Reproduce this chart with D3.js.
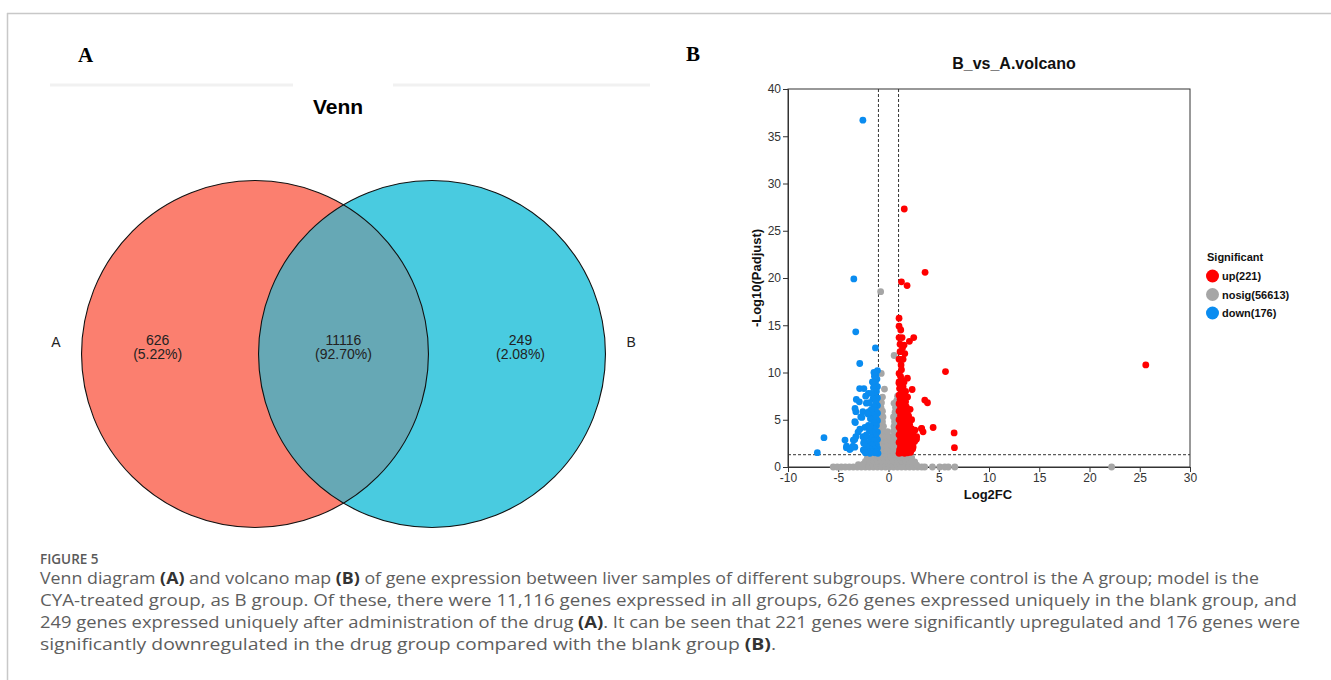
<!DOCTYPE html>
<html>
<head>
<meta charset="utf-8">
<script src="https://cdn.jsdelivr.net/npm/d3@7"></script>
<style>
  body { margin: 0; background: #fff; }
  svg { display: block; }
</style>
</head>
<body>
<script>
// ---------- data ----------
var vennSets = ["A", "B"];
var vennCounts = [626, 11116, 249];
var vennPercents = ["5.22%", "92.70%", "2.08%"];

var xTicks = [-10, -5, 0, 5, 10, 15, 20, 25, 30];
var yTicks = [0, 5, 10, 15, 20, 25, 30, 35, 40];
var sigLabels = ["up(221)", "nosig(56613)", "down(176)"];
var fcCut = 1, padjCut = 1.3;

// [log2FC, -log10(padjust)]
var upPoints = [
  [1.57,27.3],[3.64,20.6],[1.29,19.6],[1.85,19.2],[1.05,15.75],[1.05,14.9],[1.22,14.5],
  [1.05,13.7],[1.35,13.7],[2.51,13.7],[2.08,13.3],[1.15,13.0],[1.39,12.6],[1.62,12.0],
  [1.05,11.4],[1.45,11.4],[1.29,10.3],[1.05,9.9],[5.67,10.1],[25.6,10.8],[1.88,9.4],
  [1.05,8.85],[2.35,8.2],[1.35,7.96],[3.61,7.08],[3.88,6.8],[1.78,6.37],[3.28,4.07],
  [3.44,3.72],[4.44,4.18],[6.53,3.61],[6.56,2.05],[2.45,3.36],[2.28,4.07],[2.78,2.94],
  [2.12,2.48],[2.45,2.12],[1.78,1.6],[3.3,4.09],[2.63,3.9],[2.8,3.2],[2.3,3.0],
  [1.05,1.45],[1.3,1.5],[1.6,1.45],[1.9,1.5],[2.2,1.55],[1.1,1.8],[1.45,1.85],[1.75,1.9],
  [2.05,1.85],[2.4,1.9],[1.2,2.2],[1.55,2.25],[1.9,2.2],[2.25,2.3],[1.05,2.6],[1.35,2.6],
  [1.7,2.55],[2.0,2.65],[2.6,2.7],[1.2,3.0],[1.55,3.0],[1.85,3.05],[2.2,3.0],[1.05,3.4],
  [1.4,3.4],[1.75,3.45],[2.05,3.5],[1.2,3.8],[1.6,3.85],[1.95,3.8],[1.05,4.2],[1.4,4.2],
  [1.8,4.25],[2.1,4.5],[1.2,4.6],[1.55,4.65],[1.05,5.0],[1.35,5.1],[1.75,5.0],[1.2,5.45],
  [1.55,5.5],[1.05,5.9],[1.4,5.9],[1.85,5.8],[1.2,6.3],[1.6,6.25],[1.05,6.7],[1.35,6.75],
  [1.7,6.9],[1.15,7.15],[1.5,7.3],[1.05,7.6],[1.3,7.9],[1.6,7.7],[1.1,8.3],[1.45,8.5],
  [1.05,9.0],[1.3,9.2],[1.2,9.6],[1.55,9.0],[1.7,8.0],[1.9,7.4],[2.0,5.4],[2.3,5.0],
  [2.15,6.1],[1.9,4.0],[2.35,2.5],[2.55,3.1],[1.25,10.8],[1.15,12.2],[1.55,12.9]
];

var nosigPoints = [
  [-5.5,0],[-5.1,0],[-4.7,0],[-4.3,0],[-3.9,0],[-3.5,0],[-3.1,0],[-2.7,0],[-2.3,0],[-1.9,0],
  [-1.5,0],[-1.1,0],[-0.7,0],[-0.3,0],[0.1,0],[0.5,0],[0.9,0],[1.3,0],[1.7,0],[2.1,0],
  [2.5,0],[2.9,0],[3.3,0],[3.6,0],[4.37,0],[5.1,0],[5.6,0],[5.95,0],[6.6,0],[22.2,0],
  [-3.0,0.25],[-2.5,0.3],[-2.0,0.25],[-1.6,0.3],[-1.2,0.25],[-0.8,0.3],[-0.4,0.25],[0,0.3],
  [0.4,0.25],[0.8,0.3],[1.2,0.25],[1.6,0.3],[2.0,0.25],[2.4,0.3],[2.8,0.2],
  [-2.3,0.6],[-1.9,0.65],[-1.5,0.6],[-1.1,0.65],[-0.7,0.6],[-0.3,0.65],[0.1,0.6],[0.5,0.65],
  [0.9,0.6],[1.3,0.65],[1.7,0.6],[2.1,0.65],[2.61,0.53],
  [-2.1,1.0],[-1.7,1.05],[-1.3,1.0],[-0.9,1.05],[-0.5,1.0],[-0.1,1.05],[0.3,1.0],[0.7,1.05],
  [1.1,1.0],[1.5,1.05],[1.9,1.0],[2.3,1.0],
  [-1.9,1.3],[-1.4,1.35],[-0.8,1.3],[-0.3,1.35],[0.2,1.3],[0.7,1.35],[1.2,1.3],[1.7,1.35],[2.1,1.3],
  [-0.9,1.7],[-0.55,1.8],[-0.2,1.7],[0.15,1.8],[0.5,1.7],[0.85,1.8],
  [-0.85,2.2],[-0.5,2.3],[-0.15,2.2],[0.2,2.3],[0.55,2.2],[0.9,2.3],
  [-0.9,2.7],[-0.55,2.8],[-0.2,2.75],[0.15,2.8],[0.5,2.7],[0.85,2.8],
  [-0.85,3.2],[-0.5,3.3],[0.05,3.25],[0.55,3.3],[0.9,3.2],
  [-0.9,3.7],[-0.55,3.8],[-0.1,3.75],[0.5,3.8],[0.85,3.7],
  [-0.85,4.2],[-0.5,4.3],[0.55,4.3],[0.9,4.2],
  [-0.9,4.7],[-0.6,4.8],[0.6,4.8],[0.85,4.7],
  [-0.85,5.2],[-0.55,5.3],[0.5,5.3],[0.9,5.2],
  [-0.8,5.7],[-0.6,5.9],[0.65,5.8],[0.85,5.6],
  [-0.75,6.3],[0.7,6.3],[-0.7,6.8],[0.55,6.74],[0.8,7.0],
  [-0.78,18.55],[0.56,11.8],[-0.72,9.9],[-0.4,8.25],[-0.6,7.4],[0.9,7.5]
];

var downPoints = [
  [-2.55,36.7],[-3.45,19.9],[-3.26,14.3],[-1.3,12.6],[-2.86,10.95],[-2.87,8.3],[-2.45,8.3],
  [-2.0,7.8],[-2.9,6.9],[-2.2,6.75],[-3.25,5.85],[-2.55,5.85],[-1.95,5.85],[-3.35,4.8],
  [-2.65,5.25],[-2.85,4.0],[-2.35,4.2],[-3.25,3.2],[-2.55,3.2],[-6.42,3.1],[-4.33,2.85],
  [-3.5,2.85],[-4.17,2.2],[-3.77,1.95],[-3.35,2.1],[-2.5,1.8],[-2.2,2.15],[-7.08,1.52],
  [-2.27,7.5],[-3.2,7.15],[-3.33,6.2],[-2.76,5.3],[-3.3,4.7],[-3.03,3.7],[-3.36,2.9],
  [-4.19,2.05],[-3.86,1.85],[-3.53,2.2],[-2.46,2.6],[-2.27,3.2],[-2.46,1.77],[-2.03,1.95],
  [-1.1,10.2],[-1.25,9.8],[-1.15,9.3],[-1.4,9.6],[-1.3,8.9],[-1.1,8.5],[-1.5,8.4],[-1.2,8.0],
  [-1.35,7.6],[-1.1,7.3],[-1.55,7.2],[-1.25,6.9],[-1.1,6.5],[-1.45,6.4],[-1.3,6.0],[-1.7,6.1],
  [-1.1,5.7],[-1.5,5.5],[-1.25,5.2],[-1.8,5.1],[-1.1,4.9],[-1.45,4.7],[-1.65,4.4],[-1.2,4.4],
  [-1.35,4.0],[-1.1,3.7],[-1.55,3.6],[-1.9,3.8],[-1.25,3.3],[-1.75,3.1],[-1.1,2.9],[-1.45,2.8],
  [-2.0,2.6],[-1.2,2.4],[-1.65,2.3],[-1.1,2.0],[-1.4,1.9],[-1.9,1.9],[-2.2,2.1],[-1.2,1.6],
  [-1.6,1.6],[-2.1,1.6],[-2.4,1.7],[-1.05,1.45],[-1.35,1.5],[-1.85,1.45],[-2.3,1.5],
  [-1.6,9.0],[-1.45,10.0],[-1.7,7.8],[-1.9,6.8],[-2.05,5.6],[-2.0,4.4],[-2.2,3.4],[-2.45,2.5],
  [-1.83,4.25]
];

var captionTitle = "FIGURE 5";
var captionLines = [
  [["Venn diagram ", 0], ["(A)", 1], [" and volcano map ", 0], ["(B)", 1],
   [" of gene expression between liver samples of different subgroups. Where control is the A group; model is the", 0]],
  [["CYA-treated group, as B group. Of these, there were 11,116 genes expressed in all groups, 626 genes expressed uniquely in the blank group, and", 0]],
  [["249 genes expressed uniquely after administration of the drug ", 0], ["(A)", 1],
   [". It can be seen that 221 genes were significantly upregulated and 176 genes were", 0]],
  [["significantly downregulated in the drug group compared with the blank group ", 0], ["(B)", 1], [".", 0]]
];
var captionEnds = [1259, 1297, 1300, 776];

// ---------- page ----------
var W = 1331, H = 680;
var sans = "'Liberation Sans', Arial, sans-serif";
var svg = d3.select("body").append("svg")
    .attr("width", W)
    .attr("height", H)
    .style("font-family", sans);

// figure frame
svg.append("line").attr("x1", 7).attr("x2", W).attr("y1", 13.5).attr("y2", 13.5)
    .attr("stroke", "#c8c8c8").attr("stroke-width", 1.5);
svg.append("line").attr("x1", 7.5).attr("x2", 7.5).attr("y1", 13).attr("y2", H)
    .attr("stroke", "#c8c8c8").attr("stroke-width", 1.5);

// ---------- panel A : Venn ----------
svg.append("text").attr("x", 78).attr("y", 62)
    .style("font-family", "'Liberation Serif', 'Times New Roman', serif")
    .style("font-weight", "bold").style("font-size", "21px").text("A");

svg.selectAll(".faint").data([[50, 293], [393, 650]]).enter().append("line")
    .attr("x1", function(d) { return d[0]; }).attr("x2", function(d) { return d[1]; })
    .attr("y1", 85).attr("y2", 85)
    .attr("stroke", "#f1f1f1").attr("stroke-width", 3);

svg.append("text").attr("x", 338).attr("y", 114).attr("text-anchor", "middle")
    .style("font-weight", "bold").style("font-size", "21px").text("Venn");

var vx = d3.scaleLinear().domain([-1, 1]).range([255, 432]);
var vcy = 354;
var vr = (vx(1) - vx(-1)) * 0.98;
var vennFill = d3.scaleOrdinal().domain(vennSets).range(["#fb7f6f", "#49cbe0"]);

var venn = svg.append("g");
var defs = svg.append("defs");
defs.append("clipPath").attr("id", "clipA")
  .append("circle").attr("cx", vx(-1)).attr("cy", vcy).attr("r", vr);

venn.selectAll("circle.set").data(vennSets).enter().append("circle")
    .attr("class", "set")
    .attr("cx", function(d, i) { return vx(i ? 1 : -1); })
    .attr("cy", vcy).attr("r", vr)
    .attr("fill", function(d) { return vennFill(d); });

venn.append("circle")
    .attr("cx", vx(1)).attr("cy", vcy).attr("r", vr)
    .attr("clip-path", "url(#clipA)")
    .attr("fill", "#66a8b5");

venn.selectAll("circle.edge").data(vennSets).enter().append("circle")
    .attr("class", "edge")
    .attr("cx", function(d, i) { return vx(i ? 1 : -1); })
    .attr("cy", vcy).attr("r", vr)
    .attr("fill", "none").attr("stroke", "#111").attr("stroke-width", 1.1);

venn.selectAll("text.setname").data(vennSets).enter().append("text")
    .attr("class", "setname")
    .attr("x", function(d, i) { return vx(i ? 3.25 : -3.25); })
    .attr("y", 347).attr("text-anchor", "middle")
    .style("font-size", "14px").attr("fill", "#222")
    .text(function(d) { return d; });

var regionX = [-2.1, 0, 2.0];
var vennLab = venn.selectAll("text.count").data(vennCounts).enter().append("text")
    .attr("class", "count")
    .attr("text-anchor", "middle")
    .style("font-size", "14px").attr("fill", "#222");
vennLab.append("tspan")
    .attr("x", function(d, i) { return vx(regionX[i]); }).attr("y", 345)
    .text(function(d) { return d; });
vennLab.append("tspan")
    .attr("x", function(d, i) { return vx(regionX[i]); }).attr("y", 359)
    .text(function(d, i) { return "(" + vennPercents[i] + ")"; });

// ---------- panel B : volcano ----------
svg.append("text").attr("x", 686).attr("y", 61)
    .style("font-family", "'Liberation Serif', 'Times New Roman', serif")
    .style("font-weight", "bold").style("font-size", "21px").text("B");

var x = d3.scaleLinear().domain([-10, 30]).range([788, 1190]);
var y = d3.scaleLinear().domain([0, 40]).range([467, 89]);

svg.append("text").attr("x", 1014).attr("y", 69).attr("text-anchor", "middle")
    .style("font-weight", "bold").style("font-size", "16px").attr("fill", "#111")
    .text("B_vs_A.volcano");

// box
svg.append("rect")
    .attr("x", x(-10)).attr("y", y(40))
    .attr("width", x(30) - x(-10)).attr("height", y(0) - y(40))
    .attr("fill", "none").attr("stroke", "#333").attr("stroke-width", 1);

var xAxis = svg.append("g")
    .attr("transform", "translate(0," + y(0) + ")")
    .call(d3.axisBottom(x).tickValues(xTicks).tickSize(5).tickPadding(1)
      .tickFormat(function(d) { return String(d); }));
var yAxis = svg.append("g")
    .attr("transform", "translate(" + x(-10) + ",0)")
    .call(d3.axisLeft(y).tickValues(yTicks).tickSize(5).tickPadding(2));
[xAxis, yAxis].forEach(function(g) {
  g.select(".domain").attr("stroke", "#333");
  g.selectAll(".tick line").attr("stroke", "#333");
  g.selectAll(".tick text").style("font-size", "12px").style("font-family", sans).attr("fill", "#333");
});

svg.append("text").attr("x", 988).attr("y", 499).attr("text-anchor", "middle")
    .style("font-weight", "bold").style("font-size", "13px").attr("fill", "#111").text("Log2FC");
svg.append("text")
    .attr("transform", "translate(761," + 278 + ") rotate(-90)")
    .attr("text-anchor", "middle")
    .style("font-weight", "bold").style("font-size", "13px").attr("fill", "#111")
    .text("-Log10(Padjust)");

// threshold lines
var thr = svg.append("g").attr("stroke", "#333").attr("stroke-width", 1).attr("stroke-dasharray", "3,2");
[-fcCut, fcCut].forEach(function(v) {
  thr.append("line").attr("x1", x(v)).attr("x2", x(v)).attr("y1", y(40)).attr("y2", y(0));
});
thr.append("line").attr("x1", x(-10)).attr("x2", x(30)).attr("y1", y(padjCut)).attr("y2", y(padjCut));

var sigColor = d3.scaleOrdinal().domain(sigLabels).range(["#ff0000", "#a6a6a6", "#0a8cf0"]);
var groups = [[nosigPoints, sigLabels[1]], [downPoints, sigLabels[2]], [upPoints, sigLabels[0]]];
groups.forEach(function(gp) {
  svg.append("g").selectAll("circle").data(gp[0]).enter().append("circle")
      .attr("cx", function(d) { return x(d[0]); })
      .attr("cy", function(d) { return y(d[1]); })
      .attr("r", 3.4)
      .attr("fill", sigColor(gp[1]));
});

// legend
var leg = svg.append("g").attr("transform", "translate(1206,0)");
leg.append("text").attr("x", 1).attr("y", 261)
    .style("font-weight", "bold").style("font-size", "11px").attr("fill", "#111").text("Significant");
var li = leg.selectAll("g.item").data(sigLabels).enter().append("g")
    .attr("class", "item")
    .attr("transform", function(d, i) { return "translate(0," + (276 + i * 18.5) + ")"; });
li.append("circle").attr("cx", 6.5).attr("cy", 0).attr("r", 6.5)
    .attr("fill", function(d) { return sigColor(d); });
li.append("text").attr("x", 16).attr("y", 4)
    .style("font-weight", "bold").style("font-size", "11px").attr("fill", "#111")
    .text(function(d) { return d; });

// ---------- caption ----------
svg.append("text").attr("x", 40).attr("y", 564)
    .style("font-family", "'Open Sans', 'Noto Sans', sans-serif")
    .style("font-size", "13.5px").style("font-weight", "600")
    .attr("fill", "#5a5a5a").text(captionTitle);

captionLines.forEach(function(segs, i) {
  var t = svg.append("text")
      .attr("x", 40).attr("y", 584 + i * 22)
      .attr("textLength", captionEnds[i] - 40)
      .attr("lengthAdjust", "spacingAndGlyphs")
      .style("font-family", "'Open Sans', 'Noto Sans', sans-serif")
      .style("font-size", "16px").attr("fill", "#5e5e5e");
  segs.forEach(function(s) {
    t.append("tspan").style("font-weight", s[1] ? "bold" : "normal")
        .attr("fill", s[1] ? "#333" : "#5e5e5e").text(s[0]);
  });
});
</script>
</body>
</html>
